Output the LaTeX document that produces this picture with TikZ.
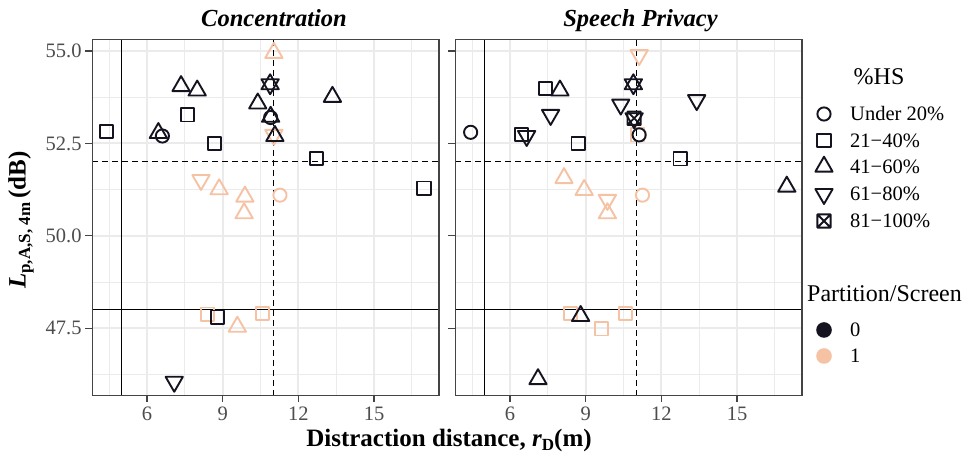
\documentclass[tikz,border=0pt]{standalone}
\usepackage{fontspec}
\setmainfont{Liberation Serif}
\definecolor{ink}{HTML}{15131F}
\definecolor{peach}{HTML}{F6C2A4}
\definecolor{gridc}{HTML}{EBEBEB}
\definecolor{framec}{HTML}{444444}
\definecolor{tickc}{HTML}{4D4D4D}

% point glyphs: #1 = style, #2 = data coordinate
\newcommand\mkC[2]{\draw[#1] (#2) circle[radius=6.6pt];}
\newcommand\mkS[2]{\draw[#1] (#2) ++(-6.6pt,-6.6pt) rectangle ++(13.2pt,13.2pt);}
\newcommand\mkU[2]{\draw[#1] (#2) ++(0pt,10pt) -- ++(-8.66pt,-15pt) -- ++(17.32pt,0pt) -- cycle;}
\newcommand\mkD[2]{\draw[#1] (#2) ++(0pt,-10pt) -- ++(-8.66pt,15pt) -- ++(17.32pt,0pt) -- cycle;}
\newcommand\mkX[2]{\draw[#1] (#2) ++(-6.6pt,-6.6pt) rectangle ++(13.2pt,13.2pt) -- ++(-13.2pt,-13.2pt) ++(0pt,13.2pt) -- ++(13.2pt,-13.2pt);}

% panel background: grid, reference lines, frame, ticks
\newcommand\panelbase{%
  \foreach \gx in {4.5,7.5,10.5,13.5,16.5} \draw[gridminor] (\gx,45.67) -- (\gx,55.32);
  \foreach \gy in {46.25,48.75,51.25,53.75} \draw[gridminor] (3.83,\gy) -- (17.57,\gy);
  \foreach \gx in {6,9,12,15} \draw[gridmajor] (\gx,45.67) -- (\gx,55.32);
  \foreach \gy in {47.5,50,52.5,55} \draw[gridmajor] (3.83,\gy) -- (17.57,\gy);
  \draw[refline] (5,45.67) -- (5,55.32);
  \draw[refline] (3.83,48) -- (17.57,48);
  \draw[refline,dashed,dash pattern=on 6pt off 4pt] (11,45.67) -- (11,55.32);
  \draw[refline,dashed,dash pattern=on 6pt off 4pt] (3.83,52) -- (17.57,52);
  \draw[frame] (3.83,45.67) rectangle (17.57,55.32);
  \foreach \gy in {47.5,50,52.5,55} \draw[tickmark] (3.83,\gy) -- ++(-7pt,0pt);
  \foreach \gx in {6,9,12,15} {
    \draw[tickmark] (\gx,45.67) -- ++(0pt,-6pt);
    \node[ticklab,anchor=north] at ([yshift=-11pt]\gx,45.67) {\gx};
  }
}

\begin{document}
\begin{tikzpicture}[x=1pt,y=1pt,
  gridmajor/.style={draw=gridc,line width=1.8pt},
  gridminor/.style={draw=gridc,line width=0.9pt},
  refline/.style={draw=black,line width=1.1pt},
  frame/.style={draw=framec,line width=1.3pt},
  tickmark/.style={draw=framec,line width=1.2pt},
  ticklab/.style={inner sep=0pt,text=tickc,font=\fontsize{20.5}{20.5}\selectfont},
  mk/.style={line width=1.9pt,line join=round},
  blk/.style={mk,draw=ink},
  org/.style={mk,draw=peach},
  striptitle/.style={inner sep=0pt,font=\fontsize{24.5}{24.5}\selectfont\bfseries\itshape},
  legtitle/.style={inner sep=0pt,font=\fontsize{24}{24}\selectfont},
  leglab/.style={inner sep=0pt,anchor=west,font=\fontsize{20.5}{20.5}\selectfont}]
\useasboundingbox (0,0) rectangle (970,457);
\fill[white] (0,0) rectangle (970,457);

% ---------------- Concentration ----------------
\begin{scope}[shift={(-4.38pt,-1626.8pt)},x=25.23pt,y=36.96pt]
  \panelbase
  \foreach \gy/\lab in {47.5/47.5,50/50.0,52.5/52.5,55/55.0}
    \node[ticklab,anchor=east] at ([xshift=-10.5pt]3.83,\gy) {\lab};
  % partition / screen present
  \mkU{org}{11.03,54.95}
  \mkD{org}{11.03,52.73}
  \mkD{org}{8.14,51.51}
  \mkU{org}{8.86,51.26}
  \mkU{org}{9.88,51.06}
  \mkU{org}{9.85,50.61}
  \mkC{org}{11.27,51.10}
  \mkS{org}{8.39,47.88}
  \mkU{org}{9.58,47.54}
  \mkS{org}{10.59,47.90}
  % no partition / screen
  \mkS{blk}{4.40,52.82}
  \mkU{blk}{6.45,52.78}
  \mkC{blk}{6.61,52.70}
  \mkU{blk}{7.35,54.05}
  \mkU{blk}{7.99,53.93}
  \mkS{blk}{7.60,53.27}
  \mkS{blk}{8.67,52.50}
  \mkU{blk}{10.39,53.58}
  \mkU{blk}{10.88,54.10}
  \mkD{blk}{10.88,54.10}
  \mkU{blk}{10.90,53.22}
  \mkC{blk}{10.90,53.20}
  \mkU{blk}{11.07,52.70}
  \mkU{blk}{13.35,53.76}
  \mkS{blk}{12.73,52.10}
  \mkS{blk}{16.98,51.29}
  \mkS{blk}{8.79,47.80}
  \mkD{blk}{7.08,46.05}
\end{scope}

% ---------------- Speech Privacy ----------------
\begin{scope}[shift={(358.62pt,-1626.8pt)},x=25.23pt,y=36.96pt]
  \panelbase
  \mkD{org}{11.12,54.89}
  \mkS{org}{11.07,52.73}
  \mkU{org}{8.14,51.56}
  \mkU{org}{8.94,51.24}
  \mkD{org}{9.86,50.97}
  \mkU{org}{9.86,50.61}
  \mkC{org}{11.25,51.10}
  \mkS{org}{8.41,47.90}
  \mkS{org}{9.62,47.48}
  \mkS{org}{10.59,47.90}
  \mkC{blk}{4.44,52.80}
  \mkS{blk}{7.41,53.99}
  \mkU{blk}{7.98,53.93}
  \mkD{blk}{7.61,53.27}
  \mkS{blk}{6.46,52.75}
  \mkD{blk}{6.66,52.70}
  \mkS{blk}{8.70,52.49}
  \mkD{blk}{10.39,53.55}
  \mkU{blk}{10.89,54.10}
  \mkD{blk}{10.89,54.10}
  \mkX{blk}{10.92,53.18}
  \mkD{blk}{10.92,53.18}
  \mkC{blk}{11.12,52.73}
  \mkS{blk}{12.74,52.08}
  \mkD{blk}{13.40,53.67}
  \mkU{blk}{16.97,51.33}
  \mkU{blk}{8.80,47.83}
  \mkU{blk}{7.11,46.12}
\end{scope}

% strip titles
\node[striptitle,anchor=base] (tconc) at (274,430.5) {Concentration};
\node[striptitle,anchor=base] (tspeech) at (640.5,430.5) {Speech Privacy};

% axis titles
\node[inner sep=0pt,anchor=base,font=\fontsize{25}{25}\selectfont\bfseries] (xtitle) at (449,10.5)
  {Distraction distance, \textit{r}\raisebox{-4pt}{\fontsize{17}{17}\selectfont D}(m)};
\node[inner sep=0pt,rotate=90,font=\fontsize{25}{25}\selectfont\bfseries] (ytitle) at (21,237)
  {\textit{L}\raisebox{-4.5pt}{\fontsize{17}{17}\selectfont p,A,S, 4m}\,(dB)};

% legend: %HS
\node[legtitle,anchor=base west] (lhs) at (853.5,372) {\%HS};
\mkC{blk}{824,343}
\mkS{blk}{824,316.3}
\mkU{blk}{824,290.3}
\mkD{blk}{824,263}
\mkX{blk}{824,236}
\node[leglab] (l1) at (850,343) {Under 20\%};
\node[leglab] (l2) at (850,316.3) {21\textminus 40\%};
\node[leglab] (l3) at (850,290.3) {41\textminus 60\%};
\node[leglab] (l4) at (850,263) {61\textminus 80\%};
\node[leglab] (l5) at (850,236) {81\textminus 100\%};

% legend: Partition/Screen
\node[legtitle,anchor=base west] (lps) at (807,155.3) {Partition/Screen};
\fill[ink] (824,127) circle[radius=7.8pt];
\fill[peach] (824,101) circle[radius=7.8pt];
\node[leglab] (l6) at (850,127) {0};
\node[leglab] (l7) at (850,101) {1};
\end{tikzpicture}
\end{document}
